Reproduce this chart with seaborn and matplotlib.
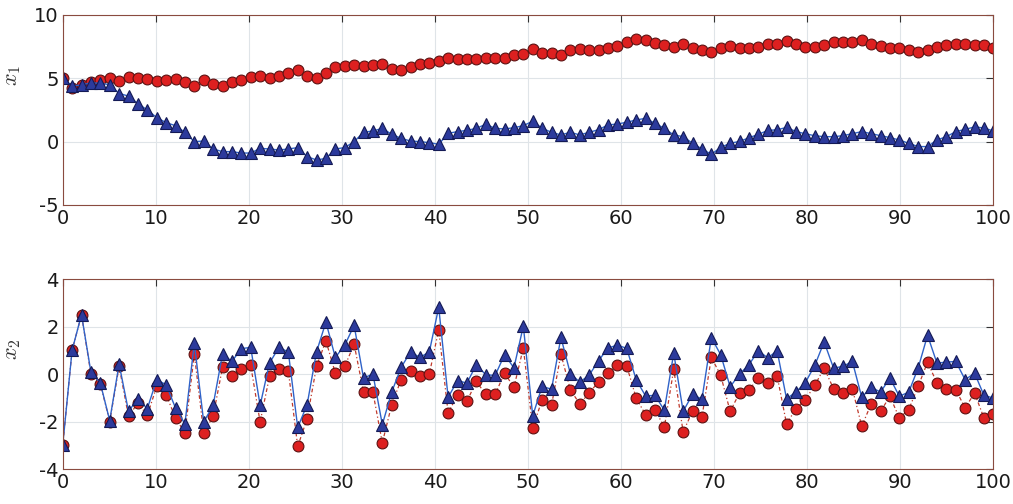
import numpy as np
import seaborn as sns
import matplotlib.pyplot as plt

# 100 samples spread over 0..100
n_points = 100
x_vals = np.linspace(0, 100, n_points)

# x1 component (top panel)
x1_red = [5.0, 4.26, 4.47, 4.7, 4.87, 5.05, 4.8, 5.1, 5.0, 4.95,
          4.8, 4.87, 4.95, 4.74, 4.42, 4.87, 4.58, 4.37, 4.68, 4.87,
          5.13, 5.2, 5.0, 5.2, 5.4, 5.68, 5.21, 5.05, 5.39, 5.87,
          6.0, 6.05, 6.0, 6.05, 6.1, 5.71, 5.63, 5.89, 6.1, 6.24,
          6.39, 6.63, 6.5, 6.5, 6.5, 6.63, 6.58, 6.58, 6.84, 6.9,
          7.3, 6.97, 6.97, 6.84, 7.26, 7.31, 7.24, 7.24, 7.42, 7.58,
          7.84, 8.09, 8.02, 7.8, 7.65, 7.45, 7.7, 7.37, 7.22, 7.04,
          7.42, 7.55, 7.42, 7.43, 7.5, 7.68, 7.74, 7.95, 7.68, 7.5,
          7.5, 7.63, 7.84, 7.9, 7.9, 8.03, 7.68, 7.58, 7.42, 7.42,
          7.24, 7.1, 7.21, 7.5, 7.63, 7.68, 7.68, 7.63, 7.63, 7.42]
x1_blue = [5.0, 4.4, 4.47, 4.65, 4.6, 4.5, 3.8, 3.6, 3.0, 2.5,
           1.9, 1.5, 1.26, 0.74, 0.0, 0.05, -0.58, -0.79, -0.79, -0.9,
           -0.9, -0.53, -0.58, -0.66, -0.58, -0.47, -1.18, -1.45, -1.32, -0.58,
           -0.47, 0.0, 0.74, 0.84, 1.05, 0.58, 0.26, 0.05, 0.0, -0.08,
           -0.21, 0.66, 0.79, 0.89, 1.05, 1.37, 1.05, 1.0, 1.1, 1.26,
           1.62, 1.05, 0.74, 0.53, 0.74, 0.53, 0.74, 0.94, 1.32, 1.39,
           1.53, 1.71, 1.84, 1.45, 1.05, 0.52, 0.4, -0.13, -0.58, -1.0,
           -0.45, -0.13, 0.02, 0.3, 0.58, 0.88, 0.94, 1.12, 0.8, 0.62,
           0.47, 0.39, 0.39, 0.47, 0.63, 0.79, 0.63, 0.47, 0.32, 0.13,
           -0.13, -0.39, -0.39, 0.13, 0.39, 0.79, 0.97, 1.16, 1.08, 0.84]

# x2 component (bottom panel)
x2_red = [-3.0, 1.0, 2.5, 0.0, -0.4, -2.0, 0.32, -1.78, -1.22, -1.74,
          -0.52, -0.87, -1.85, -2.48, 0.84, -2.48, -1.78, 0.28, -0.1, 0.22,
          0.36, -2.02, -0.1, 0.22, 0.14, -3.05, -1.88, 0.32, 1.4, 0.04,
          0.32, 1.26, -0.76, -0.76, -2.9, -1.29, -0.24, 0.11, -0.1, 0.0,
          1.87, -1.64, -0.87, -1.15, -0.31, -0.86, -0.86, 0.04, -0.56, 1.1,
          -2.27, -1.08, -1.32, 0.84, -0.66, -1.26, -0.8, -0.33, 0.06, 0.39,
          0.34, -1.01, -1.71, -1.5, -2.24, 0.2, -2.44, -1.57, -1.82, 0.7,
          -0.06, -1.57, -0.8, -0.68, -0.16, -0.38, -0.08, -2.1, -1.46, -1.08,
          -0.48, 0.25, -0.62, -0.8, -0.62, -2.2, -1.26, -1.57, -0.94, -1.85,
          -1.5, -0.52, 0.5, -0.38, -0.62, -0.66, -1.43, -0.8, -1.85, -1.68]
x2_blue = [-3.0, 1.0, 2.5, 0.08, -0.38, -1.96, 0.42, -1.57, -1.04, -1.46,
           -0.24, -0.45, -1.43, -2.1, 1.3, -2.02, -1.32, 0.84, 0.53, 1.07,
           1.12, -1.32, 0.46, 1.12, 0.93, -2.25, -1.29, 0.93, 2.19, 0.7,
           1.21, 2.05, -0.17, 0.0, -2.13, -0.76, 0.28, 0.93, 0.7, 0.93,
           2.81, -0.98, -0.28, -0.38, 0.39, -0.03, -0.06, 0.81, 0.26, 2.02,
           -1.76, -0.52, -0.64, 1.54, 0.02, -0.34, -0.05, 0.56, 1.09, 1.22,
           1.08, -0.24, -0.92, -0.9, -1.52, 0.88, -1.57, -0.86, -1.06, 1.53,
           0.81, -0.54, 0.0, 0.39, 0.98, 0.68, 0.98, -1.04, -0.76, -0.36,
           0.36, 1.35, 0.25, 0.32, 0.53, -0.98, -0.56, -0.76, -0.17, -0.94,
           -0.76, 0.25, 1.63, 0.46, 0.5, 0.53, -0.24, 0.04, -0.9, -1.01]

x_ticks = [0, 10, 20, 30, 40, 50, 60, 70, 80, 90, 100]
top_yticks = [-5, 0, 5, 10]
bottom_yticks = [-4, -2, 0, 2, 4]

sns.set_theme(style="white")
plt.rcParams['font.family'] = ['DejaVu Sans']
plt.rcParams['mathtext.fontset'] = 'cm'
plt.rcParams['axes.unicode_minus'] = False

fig = plt.figure(figsize=(10.13, 5.04), dpi=100)
ax_top = fig.add_axes([0.0619, 0.5933, 0.9187, 0.377])
ax_bot = fig.add_axes([0.0619, 0.0694, 0.9187, 0.377])

red_style = dict(color='#c0392b', linestyle=(0, (3, 2, 1, 2)), lw=0.9, marker='o',
                 markersize=7.8, markerfacecolor='#dd2020', markeredgecolor='#5c1212',
                 markeredgewidth=0.8)
blue_style = dict(color='#2f62c8', linestyle='-', lw=1.0, marker='^',
                  markersize=8.4, markerfacecolor='#2c3a9c', markeredgecolor='#141a55',
                  markeredgewidth=0.8)

for ax, red, blue, yticks, ylab, lab_y in [
        (ax_top, x1_red, x1_blue, top_yticks, r'$x_1$', 0.68),
        (ax_bot, x2_red, x2_blue, bottom_yticks, r'$x_2$', 0.63)]:
    sns.lineplot(x=x_vals, y=red, ax=ax, sort=False, **red_style)
    sns.lineplot(x=x_vals, y=blue, ax=ax, sort=False, **blue_style)
    ax.set_xlim(0, 100)
    ax.set_ylim(yticks[0], yticks[-1])
    ax.set_xticks(x_ticks)
    ax.set_yticks(yticks)
    ax.grid(True, color='#dfe4e8', lw=0.8)
    ax.set_axisbelow(True)
    ax.tick_params(direction='in', length=5, width=0.8, colors='#333333',
                   labelsize=14, top=True, right=True, pad=3,
                   labelcolor='#1a1a1a')
    for sp in ax.spines.values():
        sp.set_color('#8a4b3f')
        sp.set_linewidth(0.8)
    ax.set_ylabel(ylab, fontsize=16, color='#333333')
    ax.yaxis.set_label_coords(-0.043, lab_y)

fig.savefig('out.png', dpi=100)
